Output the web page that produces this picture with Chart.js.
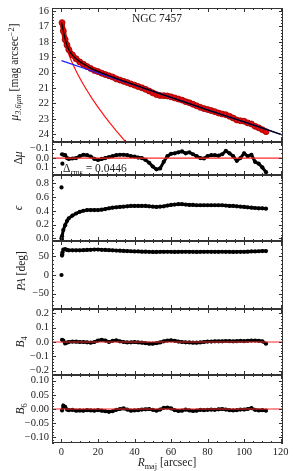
<!DOCTYPE html>
<html><head><meta charset="utf-8">
<script src="https://cdn.jsdelivr.net/npm/chart.js@4.4.0/dist/chart.umd.min.js"></script>
<style>
html,body{margin:0;padding:0;background:#fff;}
body{width:293px;height:471px;position:relative;overflow:hidden;}
canvas{position:absolute;left:0;}
</style>
</head><body>
<script>
// ---------------- data ----------------
const R = [0.3,1,2,3,4,6,8,10,12,14,16,18,20,22,24,26,28,30,32,34,36,38,40,42,44,46,48,50,52,54,56,58,60,62,64,66,68,70,72,74,76,78,80,82,84,86,88,90,92,94,96,98,100,102,104,106,108,110,112];
const mu = [16.75,17.30,17.85,18.20,18.50,18.85,19.10,19.30,19.45,19.60,19.73,19.85,19.93,20.03,20.12,20.20,20.28,20.40,20.48,20.56,20.64,20.73,20.81,20.90,20.98,21.08,21.19,21.31,21.42,21.48,21.49,21.51,21.57,21.64,21.71,21.78,21.88,21.95,22.05,22.15,22.25,22.33,22.39,22.46,22.53,22.62,22.68,22.73,22.83,22.94,23.07,23.12,23.15,23.26,23.33,23.48,23.58,23.70,23.83];
const modelR = [0,1,2,3,4,6,8,10,13,16,20,25,30,35,40,50,60,80,100,121.3];
const model = [16.72,17.28,17.83,18.22,18.50,18.86,19.10,19.28,19.50,19.70,19.92,20.15,20.37,20.58,20.79,21.20,21.61,22.41,23.20,24.05];
const diskR = [0,20,40,60,80,100,121.3];
const disk = [19.22,20.02,20.81,21.61,22.41,23.20,24.05];
const bulgeR = [0,0.5,1,2,3,4,6,8,10,12,14,16,18,20,24,28,32,36,40];
const bulge = [16.85,17.30,17.60,18.10,18.48,18.82,19.39,19.89,20.35,20.77,21.16,21.54,21.89,22.23,22.88,23.48,24.06,24.61,25.10];
const dmu = [-0.04,-0.035,-0.03,0.0,0.01,0.005,0.0,-0.02,-0.035,-0.03,-0.015,0.01,0.02,0.01,0.0,-0.01,-0.02,-0.03,-0.035,-0.035,-0.03,-0.02,-0.015,-0.005,0.0,0.02,0.05,0.09,0.12,0.11,0.04,-0.02,-0.045,-0.05,-0.06,-0.07,-0.05,-0.06,-0.04,-0.02,0.0,0.005,-0.02,-0.03,-0.03,-0.025,-0.04,-0.075,-0.05,-0.02,0.03,0.0,-0.05,-0.02,-0.035,0.04,0.06,0.10,0.15];
const dmuOutR = [0.5];
const dmuOut = [0.06];
const eps = [0.03,0.12,0.19,0.25,0.29,0.33,0.36,0.385,0.40,0.41,0.41,0.41,0.41,0.415,0.425,0.435,0.445,0.45,0.455,0.46,0.465,0.47,0.47,0.47,0.47,0.47,0.465,0.46,0.455,0.46,0.465,0.475,0.485,0.49,0.495,0.495,0.49,0.485,0.485,0.48,0.48,0.48,0.48,0.48,0.48,0.48,0.48,0.475,0.47,0.47,0.465,0.46,0.455,0.45,0.445,0.44,0.435,0.435,0.43];
const epsOutR = [0,0,0.2];
const epsOut = [0.74,0.0,-0.02];
const pa = [52,68,69,67,66,66,66,66,66.5,67,67.5,68,68,67.5,67,66.5,66,65.5,65,64.5,64,63.5,63,63,62.5,62.5,62,61.8,61.8,62,62,62.2,62,61.8,62,62,62.2,62,62,61.8,62,62,62.2,62,62,62,62.2,62,62,61.8,62,62,62,62.5,63,63,63.5,64,64];
const paOutR = [0,0.4,0.5];
const paOut = [0,55,60];
const b4 = [0.015,0.01,-0.01,-0.005,0.0,0.003,0.002,0.0,0.0,-0.002,-0.005,0.0,0.01,0.015,0.01,0.0,0.008,0.012,0.005,0.0,-0.003,-0.002,0.0,-0.003,-0.005,-0.008,-0.012,-0.012,-0.008,-0.003,0.005,0.01,0.012,0.008,0.003,0.0,-0.002,-0.003,-0.005,-0.005,-0.003,0.0,0.003,0.003,0.005,0.005,0.005,0.007,0.006,0.005,0.006,0.008,0.006,0.008,0.01,0.01,0.008,0.005,-0.012];
const b6 = [-0.005,0.012,0.008,-0.002,-0.004,-0.003,-0.006,-0.005,-0.006,-0.004,-0.005,-0.006,-0.004,-0.006,-0.008,-0.01,-0.008,-0.003,0.0,0.002,-0.002,-0.006,-0.005,-0.004,-0.002,-0.001,0.0,-0.003,-0.006,-0.002,0.004,0.005,0.002,-0.004,-0.007,-0.006,-0.002,-0.005,-0.007,-0.006,-0.003,-0.004,-0.003,-0.002,-0.003,-0.001,0.0,-0.002,-0.004,-0.005,-0.004,-0.002,-0.002,0.0,0.003,-0.003,-0.005,-0.004,-0.006];
const zeroR = [-6,122];
const zero = [0,0];

const xTicks = [0,20,40,60,80,100,120];
const muTicks = [16,17,18,19,20,21,22,23,24];
const dmuTicks = [-0.1,0,0.1];
const epsTicks = [0,0.2,0.4,0.6,0.8];
const paTicks = [-50,0,50];
const b4Ticks = [-0.2,-0.1,0,0.1,0.2];
const b6Ticks = [-0.1,-0.05,0,0.05,0.1];

const galaxyName = 'NGC 7457';
const rmsLabel = [{t:'Δ'},{t:'rms',i:true,sub:true},{t:' = 0.0446'}];

// ---------------- helpers ----------------
const FONT = "'Liberation Serif','DejaVu Serif',serif";
const XMIN = -5.2, XMAX = 121.3;
const pts = (xs, ys) => xs.map((x, i) => ({x, y: ys[i]}));
const minus = v => (v < 0 ? '\u2212' : '');

function drawRich(ctx, segs, x, y, size, rotate, align) {
  ctx.save();
  ctx.translate(x, y);
  if (rotate) ctx.rotate(-Math.PI / 2);
  const fontFor = s => `${s.i ? 'italic ' : ''}${(s.sub || s.sup) ? size * 0.72 : size}px ${FONT}`;
  let total = 0;
  for (const s of segs) { ctx.font = fontFor(s); total += ctx.measureText(s.t).width; }
  let cx = align === 'left' ? 0 : -total / 2;
  ctx.fillStyle = '#222';
  ctx.textBaseline = 'alphabetic';
  ctx.textAlign = 'left';
  for (const s of segs) {
    ctx.font = fontFor(s);
    const dy = s.sub ? size * 0.28 : (s.sup ? -size * 0.38 : 0);
    ctx.fillText(s.t, cx, dy + size * 0.35);
    cx += ctx.measureText(s.t).width;
  }
  ctx.restore();
}

function framePlugin(p) {
  return {
    id: 'frame',
    afterDraw(chart) {
      const {ctx, chartArea: a} = chart;
      const x = chart.scales.x, y = chart.scales.y;
      ctx.save();
      ctx.strokeStyle = '#333';
      ctx.lineWidth = 1;
      ctx.strokeRect(a.left + 0.5, a.top + 0.5, a.right - a.left - 1, a.bottom - a.top - 1);
      ctx.beginPath();
      for (let v = 0; v <= XMAX; v += 5) {
        const px = Math.round(x.getPixelForValue(v)) + 0.5;
        const len = (v % 20 === 0) ? 4 : 2;
        ctx.moveTo(px, a.top); ctx.lineTo(px, a.top + len);
        ctx.moveTo(px, a.bottom); ctx.lineTo(px, a.bottom - len);
      }
      const lo = Math.min(y.min, y.max), hi = Math.max(y.min, y.max);
      const st = p.minor;
      for (let k = Math.ceil(lo / st - 1e-9); k * st <= hi + 1e-9; k++) {
        const v = k * st;
        const major = p.ticks.some(t => Math.abs(t - v) < st / 10);
        const py = Math.round(y.getPixelForValue(v)) + 0.5;
        const len = major ? 4 : 2;
        ctx.moveTo(a.left, py); ctx.lineTo(a.left + len, py);
        ctx.moveTo(a.right, py); ctx.lineTo(a.right - len, py);
      }
      ctx.stroke();
      ctx.restore();
    }
  };
}

function textPlugin(p, canvasTop) {
  return {
    id: 'texts',
    afterDraw(chart) {
      const ctx = chart.ctx;
      drawRich(ctx, p.title, p.titleX, p.titleY - canvasTop, 11.5, true);
      if (p.extra) p.extra.forEach(e => drawRich(ctx, e.segs, e.x, e.y - canvasTop, e.size, false, e.align));
      if (p.xTitle) drawRich(ctx, p.xTitle, 167, 462 - canvasTop, 11.5, false);
    }
  };
}

function makePanel(p) {
  const isBottom = !!p.xTitle;
  const padT = 10, padB = isBottom ? 0 : 10;
  const top = p.top - padT;
  const h = isBottom ? (471 - top) : (p.bottom - p.top + padT + padB);
  const cv = document.createElement('canvas');
  cv.width = 293; cv.height = h;
  cv.style.top = top + 'px';
  cv.style.width = '293px'; cv.style.height = h + 'px';
  document.body.appendChild(cv);
  const tickFont = {family: FONT, size: 10.5};
  new Chart(cv, {
    type: 'scatter',
    data: {datasets: p.datasets},
    options: {
      responsive: false, animation: false, devicePixelRatio: 1,
      layout: {padding: {left: 0, right: 10, top: padT, bottom: padB}},
      plugins: {legend: {display: false}, tooltip: {enabled: false}},
      scales: {
        x: {
          type: 'linear', min: XMIN, max: XMAX, display: isBottom,
          grid: {display: false, drawTicks: false}, border: {display: false},
          afterBuildTicks: ax => { ax.ticks = xTicks.map(v => ({value: v})); },
          afterFit: ax => { if (isBottom) ax.height = 28; },
          ticks: {font: tickFont, color: '#222', padding: 3, maxRotation: 0, autoSkip: false, callback: v => String(v)}
        },
        y: {
          type: 'linear', min: p.min, max: p.max, reverse: !!p.reverse,
          grid: {display: false, drawTicks: false}, border: {display: false},
          afterBuildTicks: ax => { ax.ticks = p.ticks.map(v => ({value: v})); },
          afterFit: ax => { ax.width = 52; },
          ticks: {font: tickFont, color: '#222', padding: 3, autoSkip: false, callback: p.fmt}
        }
      }
    },
    plugins: [framePlugin(p), textPlugin(p, top)]
  });
}

const blackSeries = (xs, ys) => ({data: pts(xs, ys), showLine: true, borderColor: '#000', borderWidth: 3,
  pointRadius: 2.1, pointBackgroundColor: '#000', pointBorderWidth: 0});
const blackDots = (xs, ys) => ({data: pts(xs, ys), showLine: false,
  pointRadius: 2.1, pointBackgroundColor: '#000', pointBorderWidth: 0});
const redZero = () => ({data: pts(zeroR, zero), showLine: true, borderColor: 'rgb(255,40,40)', borderWidth: 1.2, pointRadius: 0});

const panels = [
  {top: 8, bottom: 142, min: 15.8, max: 24.5, reverse: true, ticks: muTicks, minor: 0.2,
   fmt: v => String(v),
   title: [{t:'μ',i:true},{t:'3.6μm',i:true,sub:true},{t:' [mag arcsec'},{t:'\u22122',sup:true},{t:']'}],
   titleX: 14, titleY: 72,
   extra: [{segs: [{t: galaxyName}], x: 157, y: 18, size: 11.5}],
   datasets: [
     {data: pts(modelR, model), showLine: true, borderColor: '#000', borderWidth: 1.3, pointRadius: 0, cubicInterpolationMode: 'monotone'},
     {data: pts(diskR, disk), showLine: true, borderColor: 'rgb(30,30,255)', borderWidth: 1.3, pointRadius: 0},
     {data: pts(R, mu), showLine: true, borderColor: 'rgb(215,0,0)', borderWidth: 5,
      pointRadius: 3, pointBackgroundColor: 'rgb(225,10,10)', pointBorderColor: 'rgb(160,0,0)', pointBorderWidth: 0.8},
     {data: pts(bulgeR, bulge), showLine: true, borderColor: 'rgb(255,20,20)', borderWidth: 1.2, pointRadius: 0, cubicInterpolationMode: 'monotone'}
   ]},
  {top: 142, bottom: 175, min: -0.17, max: 0.18, reverse: true, ticks: dmuTicks, minor: 0.05,
   fmt: v => minus(v) + Math.abs(v).toFixed(1),
   title: [{t:'Δ'},{t:'μ',i:true}], titleX: 18, titleY: 158,
   extra: [{segs: rmsLabel, x: 63, y: 168, size: 11.5, align: 'left'}],
   datasets: [redZero(), blackSeries(R, dmu), blackDots(dmuOutR, dmuOut)]},
  {top: 175, bottom: 241, min: -0.04, max: 0.92, ticks: epsTicks, minor: 0.05,
   fmt: v => v.toFixed(1),
   title: [{t:'ϵ',i:true}], titleX: 18, titleY: 208,
   datasets: [blackSeries(R, eps), blackDots(epsOutR, epsOut)]},
  {top: 241, bottom: 309, min: -91, max: 91, ticks: paTicks, minor: 10,
   fmt: v => minus(v) + Math.abs(v),
   title: [{t:'PA',i:true},{t:' [deg]'}], titleX: 21, titleY: 271,
   datasets: [blackSeries(R, pa), blackDots(paOutR, paOut)]},
  {top: 309, bottom: 375, min: -0.23, max: 0.23, ticks: b4Ticks, minor: 0.02,
   fmt: v => minus(v) + Math.abs(v).toFixed(1),
   title: [{t:'B',i:true},{t:'4',sub:true}], titleX: 20, titleY: 342,
   datasets: [redZero(), blackSeries(R, b4)]},
  {top: 375, bottom: 443, min: -0.12, max: 0.12, ticks: b6Ticks, minor: 0.01,
   fmt: v => minus(v) + Math.abs(v).toFixed(2),
   title: [{t:'B',i:true},{t:'6',sub:true}], titleX: 20, titleY: 409,
   xTitle: [{t:'R',i:true},{t:'maj',sub:true},{t:' [arcsec]'}],
   datasets: [redZero(), blackSeries(R, b6)]}
];

panels.forEach(makePanel);
</script>
</body></html>
